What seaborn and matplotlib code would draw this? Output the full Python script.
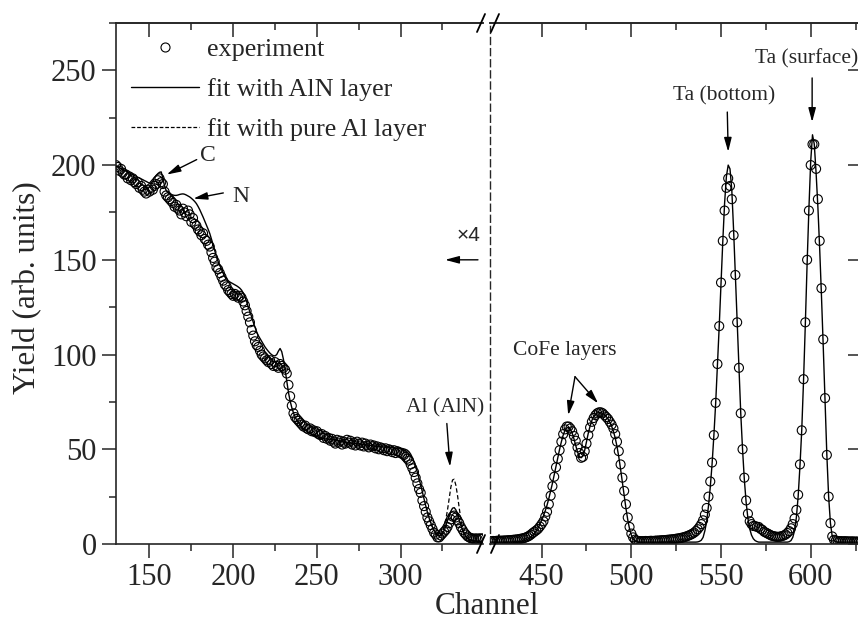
import numpy as np
import matplotlib
matplotlib.use("Agg")
import matplotlib.pyplot as plt
from matplotlib.lines import Line2D
from matplotlib.ticker import NullFormatter, NullLocator
import seaborn as sns

# ---------------- data ----------------
ch_left = np.arange(130, 350)          # channels of left segment
exp_left = [
    200, 199, 197, 198, 196, 195, 195, 193, 194, 192,            # 130
    193, 191, 190, 191, 188, 189, 187, 186, 185, 187,            # 140
    186, 188, 187, 189, 190, 192, 193, 191, 190, 186,            # 150
    184, 183, 182, 181, 180, 178, 179, 177, 176, 174,            # 160
    177, 175, 173, 176, 174, 170, 172, 169, 168, 166,            # 170
    165, 163, 164, 161, 160, 158, 157, 154, 151, 149,            # 180
    146, 145, 143, 141, 139, 137, 136, 134, 133, 132,            # 190
    131, 132, 131, 130, 131, 130, 128, 126, 123, 120,            # 200
    117, 113, 110, 107, 105, 104, 102, 100, 99, 98,              # 210
    97, 96, 97, 95, 94, 96, 94, 93, 95, 94,                      # 220
    93, 92, 90, 84, 78, 73, 69, 67, 66, 65,                      # 230
    64, 63, 62, 62.5, 61, 60.5, 61, 59.5, 60, 59,                # 240
    59.5, 58, 57.5, 58, 56, 57, 55.5, 56, 54.5, 55.5,            # 250
    54, 53, 55, 53.5, 54.5, 52.5, 54, 53, 55, 53.5,              # 260
    54.5, 52.5, 53.5, 52, 54, 53, 52, 53.5, 51.5, 53,            # 270
    52, 51, 52.5, 51.5, 52, 50.5, 51.5, 50, 51, 50.5,            # 280
    49.5, 50.5, 49, 50, 49.5, 48.5, 49.5, 48, 49, 48.5,          # 290
    48, 47.5, 47, 46, 45, 44, 42, 40, 38, 35,                    # 300
    32, 29, 27, 23, 20, 17, 14, 12, 10, 8,                       # 310
    6, 5, 3.5, 3.5, 4.5, 5.5, 6.5, 7.5, 9, 11,                   # 320
    13, 14.5, 15, 14, 12.5, 11, 9, 7.5, 6, 5,                    # 330
    4, 3.5, 3, 3, 2.5, 3, 2.5, 3, 2.8, 3,                        # 340
]
fit_aln_left = [
    199.5, 199.0, 198.6, 198.1, 197.7, 197.2, 196.8, 196.3, 195.9, 195.4,   # 130
    195.0, 194.5, 194.1, 193.6, 193.2, 192.7, 192.3, 191.8, 191.4, 190.9,   # 140
    190.5, 191.5, 192.5, 193.5, 194.5, 195.5, 196.2, 196.4, 193.0, 189.0,   # 150
    186.5, 185.5, 185.0, 184.5, 184.2, 184.0, 184.0, 184.2, 184.5, 184.7,   # 160
    184.8, 184.6, 184.2, 183.7, 183.2, 182.5, 181.7, 180.8, 179.7, 178.2,   # 170
    176.5, 174.6, 172.6, 170.5, 168.4, 166.2, 163.9, 161.0, 158.0, 154.8,   # 180
    151.5, 149.0, 147.0, 145.0, 143.0, 141.0, 140.0, 139.0, 138.3, 137.8,   # 190
    137.3, 136.8, 136.3, 135.7, 135.0, 134.0, 132.5, 130.4, 128.0, 125.0,   # 200
    122.5, 120.0, 117.0, 114.5, 112.0, 110.0, 108.5, 107.0, 105.5, 104.0,   # 210
    102.8, 101.7, 100.7, 99.9, 99.4, 99.3, 100.0, 101.8, 103.2, 101.5,      # 220
    97.5, 92.0, 86.0, 80.0, 75.5, 72.0, 69.2, 67.0, 65.3, 64.0,             # 230
    62.8, 61.8, 61.0, 60.2, 59.5, 58.9, 58.3, 57.8, 57.3, 56.9,             # 240
    56.6, 56.3, 56.1, 55.9, 55.7, 55.5, 55.4, 55.3, 55.1, 55.0,             # 250
    54.9, 54.7, 54.6, 54.4, 54.2, 54.0, 53.9, 53.7, 53.6, 53.4,             # 260
    53.3, 53.2, 53.1, 53.0, 52.9, 52.8, 52.7, 52.6, 52.4, 52.3,             # 270
    52.2, 52.1, 52.0, 51.9, 51.8, 51.7, 51.6, 51.5, 51.4, 51.3,             # 280
    51.2, 51.1, 51.1, 51.0, 50.9, 50.8, 50.8, 50.7, 50.6, 50.6,             # 290
    50.5, 50.4, 50.2, 49.9, 49.5, 48.7, 47.4, 45.6, 43.4, 40.8,             # 300
    37.9, 34.6, 31.1, 27.4, 23.7, 20.1, 16.8, 13.8, 11.2, 9.0,              # 310
    7.2, 5.8, 4.8, 4.3, 4.5, 5.5, 7.2, 9.5, 12.2, 15.0,                     # 320
    17.3, 18.9, 19.2, 18.0, 15.7, 12.8, 9.9, 7.3, 5.3, 3.9,                 # 330
    3.0, 2.4, 2.0, 1.8, 1.6, 1.5, 1.5, 1.4, 1.4, 1.4,                       # 340
]
ch_al = np.arange(316, 350)            # region where the pure-Al fit differs
fit_al_left = [
    16.8, 13.8, 11.2, 9.0,                                        # 316
    7.2, 5.8, 4.8, 4.4, 5.0, 6.5, 9.0, 13.0, 18.0, 24.0,          # 320
    30.0, 33.8, 34.2, 31.0, 25.5, 19.0, 13.0, 8.5, 5.7, 4.1,      # 330
    3.1, 2.4, 2.0, 1.8, 1.6, 1.5, 1.5, 1.4, 1.4, 1.4,             # 340
]

ch_right = np.arange(421, 629)         # channels of right segment
exp_right = [
    1.5, 1.4, 1.6, 1.5, 1.7, 1.6, 1.8, 1.7, 1.9, 1.8,             # 421
    2.0, 2.0, 2.1, 2.2, 2.3, 2.4, 2.5, 2.7, 2.9, 3.1,             # 431
    3.4, 3.8, 4.3, 5.0, 5.8, 6.5, 7.2, 8.0, 9.2, 10.5,            # 441
    12.0, 14.5, 17.0, 21.0, 25.5, 30.5, 35.5, 40.5, 45.0, 49.5,   # 451
    54.0, 58.0, 60.5, 62.0, 62.0, 61.0, 59.5, 57.0, 54.5, 51.0,   # 461
    48.0, 45.5, 46.0, 49.0, 53.0, 57.5, 61.5, 64.5, 66.5, 68.0,   # 471
    69.0, 69.5, 69.5, 69.0, 68.0, 67.0, 66.0, 64.5, 63.0, 61.0,   # 481
    58.0, 54.0, 49.0, 42.0, 35.0, 28.0, 21.0, 14.0, 9.0, 5.5,     # 491
    3.5, 2.3, 1.8, 1.6, 1.5, 1.5, 1.5, 1.6, 1.5, 1.6,             # 501
    1.7, 1.6, 1.7, 1.8, 1.8, 1.9, 2.0, 2.0, 2.1, 2.2,             # 511
    2.3, 2.4, 2.5, 2.6, 2.8, 2.9, 3.1, 3.3, 3.5, 3.8,             # 521
    4.1, 4.5, 4.9, 5.4, 6.0, 6.8, 7.8, 9.0, 10.5, 12.5,           # 531
    15.5, 19.0, 25.0, 33.0, 43.0, 57.5, 74.5, 95.0, 115.0, 138.0, # 541
    160.0, 176.0, 188.0, 193.0, 189.0, 182.0, 163.0, 142.0, 117.0, 93.0,  # 551
    69.0, 50.0, 35.0, 23.0, 16.0, 12.0, 10.5, 9.5, 9.5, 9.0,      # 561
    9.0, 8.0, 7.5, 6.5, 6.0, 5.5, 5.0, 4.5, 4.2, 4.0,             # 571
    3.8, 3.8, 3.9, 4.2, 4.5, 5.0, 5.8, 6.8, 8.3, 10.5,            # 581
    13.5, 18.0, 26.0, 42.0, 60.0, 87.0, 117.0, 150.0, 176.0, 200.0,       # 591
    211.0, 211.0, 198.0, 182.0, 160.0, 135.0, 108.0, 77.0, 47.0, 25.0,    # 601
    11.0, 4.0, 2.2, 1.8, 1.6, 1.5, 1.5, 1.4, 1.5, 1.4,            # 611
    1.4, 1.3, 1.4, 1.3, 1.3, 1.3, 1.2, 1.2,                       # 621
]
fit_right = [
    1.0, 1.0, 1.0, 1.0, 1.0, 1.0, 1.0, 1.0, 1.0, 1.0,             # 421
    1.0, 1.0, 1.0, 1.0, 1.0, 1.1, 1.2, 1.3, 1.5, 1.7,             # 431
    2.0, 2.4, 3.0, 3.7, 4.6, 5.7, 7.0, 8.6, 10.4, 12.5,           # 441
    14.8, 17.5, 20.5, 24.0, 28.0, 32.0, 36.5, 41.0, 45.5, 50.0,   # 451
    54.0, 57.5, 60.0, 61.3, 61.5, 60.5, 58.5, 55.5, 52.0, 48.5,   # 461
    46.3, 45.5, 46.5, 49.5, 54.0, 58.5, 62.3, 65.2, 67.2, 68.5,   # 471
    69.2, 69.5, 69.4, 69.0, 68.3, 67.3, 66.0, 64.3, 62.2, 59.5,   # 481
    56.0, 51.5, 46.0, 39.5, 32.5, 25.5, 18.8, 12.8, 8.0, 4.7,     # 491
    2.7, 1.7, 1.2, 1.0, 1.0, 1.0, 1.0, 1.0, 1.0, 1.0,             # 501
    1.0, 1.0, 1.0, 1.0, 1.0, 1.0, 1.0, 1.0, 1.0, 1.0,             # 511
    1.0, 1.0, 1.0, 1.0, 1.0, 1.0, 1.0, 1.0, 1.0, 1.0,             # 521
    1.0, 1.0, 1.0, 1.0, 1.0, 1.0, 1.1, 1.4, 2.0, 3.5,             # 531
    7.0, 12.0, 20.0, 30.0, 42.0, 57.0, 74.0, 94.0, 115.0, 138.0,  # 541
    160.0, 180.0, 194.0, 200.0, 198.0, 187.0, 166.0, 142.0, 117.0, 93.0,  # 551
    69.0, 50.0, 34.0, 22.0, 13.5, 8.0, 4.7, 2.8, 1.8, 1.3,        # 561
    1.0, 1.0, 1.0, 1.0, 1.0, 1.0, 1.0, 1.0, 1.0, 1.0,             # 571
    1.0, 1.0, 1.0, 1.0, 1.0, 1.0, 1.0, 1.2, 1.8, 3.5,             # 581
    7.0, 14.0, 25.0, 41.0, 60.0, 86.0, 116.0, 148.0, 177.0, 202.0,        # 591
    216.0, 211.0, 196.0, 178.0, 156.0, 131.0, 104.0, 75.0, 47.0, 25.0,    # 601
    11.0, 4.0, 1.8, 1.2, 1.0, 1.0, 1.0, 1.0, 1.0, 1.0,            # 611
    1.0, 1.0, 1.0, 1.0, 1.0, 1.0, 1.0, 1.0,                       # 621
]

legend_labels = ["experiment", "fit with AlN layer", "fit with pure Al layer"]
left_major = [150, 200, 250, 300]
left_minor = [175, 225, 275, 325]
right_major = [450, 500, 550, 600]
right_minor = [475, 525, 575, 625]
y_major = [0, 50, 100, 150, 200, 250]
y_minor = [25, 75, 125, 175, 225, 275]

# ---------------- style ----------------
sns.set_style("ticks")
plt.rcParams["font.family"] = ["Liberation Serif", "DejaVu Serif"]
plt.rcParams["axes.linewidth"] = 1.2

W, H = 858, 621
fig = plt.figure(figsize=(W / 100, H / 100), dpi=100)
fig.patch.set_facecolor("white")


def rect(x0, x1, y0=23, y1=544):
    return [x0 / W, 1 - y1 / H, (x1 - x0) / W, (y1 - y0) / H]


ax1 = fig.add_axes(rect(116, 483))
ax2 = fig.add_axes(rect(490, 862))

scat_kw = dict(marker="o", s=42, facecolors="none", edgecolor="black",
               linewidth=0.8, zorder=2, legend=False)
line_kw = dict(color="black", lw=1.0, estimator=None, zorder=3, legend=False)

sns.scatterplot(x=ch_left, y=exp_left, ax=ax1, **scat_kw)
sns.lineplot(x=ch_al, y=fit_al_left, ax=ax1, color="black", lw=0.9,
             linestyle=(0, (3.5, 2)), estimator=None, zorder=3, legend=False)
sns.lineplot(x=ch_left, y=fit_aln_left, ax=ax1, **line_kw)

sns.scatterplot(x=ch_right, y=exp_right, ax=ax2, **scat_kw)
sns.lineplot(x=ch_right, y=fit_right, ax=ax2, **line_kw)

for ax in (ax1, ax2):
    ax.set_ylim(0, 275)
    ax.set_xlabel("")
    ax.set_ylabel("")
    ax.set_facecolor("white")
ax1.set_xlim(130, 349.2)
ax2.set_xlim(421.2, 628.6)

TL = 22
# left axis ticks
ax1.set_xticks(left_major)
ax1.set_xticks(left_minor, minor=True)
ax1.set_yticks(y_major)
ax1.set_yticks(y_minor, minor=True)
ax1.tick_params(axis="both", which="major", direction="out", length=10,
                width=1.1, labelsize=TL, pad=4, top=False, right=False)
ax1.tick_params(axis="both", which="minor", direction="out", length=5,
                width=1.1, top=False, right=False)
ax1.spines["right"].set_visible(False)

# right segment ticks
ax2.set_xticks(right_major)
ax2.set_xticks(right_minor, minor=True)
ax2.tick_params(axis="x", which="major", direction="out", length=10,
                width=1.1, labelsize=TL, pad=4, top=False)
ax2.tick_params(axis="x", which="minor", direction="out", length=5,
                width=1.1, top=False)
ax2.yaxis.tick_right()
ax2.set_yticks(y_major)
ax2.yaxis.set_minor_locator(NullLocator())
ax2.tick_params(axis="y", which="major", direction="in", length=10, width=1.1,
                labelright=False, labelleft=False, left=False, right=True)
ax2.spines["left"].set_linestyle((0, (5, 3)))
ax2.spines["left"].set_linewidth(1.0)

# inward ticks on the top spine
for ax, maj, mnr in ((ax1, left_major, left_minor), (ax2, right_major, right_minor)):
    sec = ax.secondary_xaxis("top")
    sec.set_xticks(maj)
    sec.set_xticks(mnr, minor=True)
    sec.xaxis.set_major_formatter(NullFormatter())
    sec.tick_params(which="major", direction="in", length=10, width=1.1)
    sec.tick_params(which="minor", direction="in", length=5, width=1.1)
    sec.spines["top"].set_linewidth(1.2)

# axis break marks
def slash(ax, xf, wpx, hpx):
    dx, dy = 4 / wpx, 9 / hpx
    for yf in (0, 1):
        ax.plot([xf - dx, xf + dx], [yf - dy, yf + dy], transform=ax.transAxes,
                color="black", lw=1.3, clip_on=False, zorder=5)

slash(ax1, 1 - 2 / 367, 367, 521)
slash(ax2, 5 / 372, 372, 521)

# legend
handles = [
    Line2D([], [], marker="o", ls="none", mfc="none", mec="black", ms=6.5, mew=0.8),
    Line2D([], [], color="black", lw=1.0),
    Line2D([], [], color="black", lw=0.9, ls=(0, (3, 1.5))),
]
ax1.legend(handles, legend_labels, loc="upper left",
           bbox_to_anchor=(15 / 367, 1 - 15 / 521), frameon=False, fontsize=18.8,
           handlelength=2.6, handletextpad=0.32, labelspacing=0.63,
           borderpad=0, borderaxespad=0)

# annotations
AP = dict(arrowstyle="-|>,head_length=0.6,head_width=0.16", color="black",
          lw=1.0, shrinkA=0, shrinkB=0, mutation_scale=14)
FS = 15.5


def arrow(ax, tail, tip):
    ax.annotate("", xy=tip, xytext=tail, xycoords="data", textcoords="data",
                arrowprops=AP, annotation_clip=False)


ax1.text(185, 205, "C", fontsize=17, ha="center", va="center")
arrow(ax1, (178.2, 202.9), (160.3, 195))
ax1.text(204.5, 183.5, "N", fontsize=17, ha="center", va="center")
arrow(ax1, (194.1, 185.3), (176.2, 182.3))
ax1.text(340.3, 163, "\u00d74", fontsize=15, ha="center", va="center",
         family=["Liberation Sans", "DejaVu Sans"])
arrow(ax1, (346.2, 150), (326.5, 150))
ax1.text(326.5, 72, "Al (AlN)", fontsize=FS, ha="center", va="center")
arrow(ax1, (327.6, 63.6), (329.5, 40.8))

ax2.text(462.7, 102, "CoFe layers", fontsize=FS, ha="center", va="center")
arrow(ax2, (468.6, 88.3), (464.8, 68))
arrow(ax2, (468.6, 88.3), (481.5, 74.2))
ax2.text(551.6, 236.5, "Ta (bottom)", fontsize=FS, ha="center", va="center")
arrow(ax2, (553.5, 228), (554, 207))
ax2.text(597.5, 256, "Ta (surface)", fontsize=FS, ha="center", va="center")
arrow(ax2, (600.8, 246), (600.8, 222.7))

# axis titles
fig.text(487 / W, 1 - 606 / H, "Channel", fontsize=22.5, ha="center", va="center")
fig.text(28 / W, 1 - 288 / H, "Yield (arb. units)", fontsize=22.5, rotation=90,
         ha="center", va="center")

fig.savefig("out.png", dpi=100, facecolor="white")
